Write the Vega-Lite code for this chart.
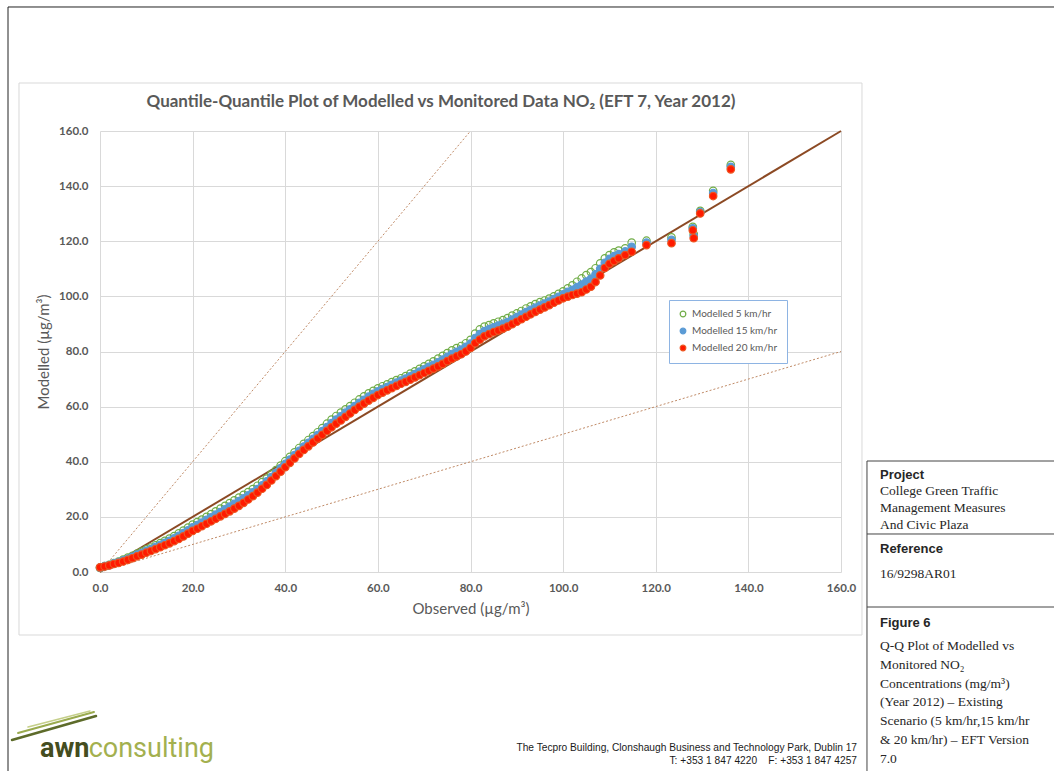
{
"$schema": "https://vega.github.io/schema/vega-lite/v6.json",
"width": 741, "height": 441,
"autosize": {"type": "none"},
"padding": {"left": 100, "top": 131, "right": 213, "bottom": 199},
"background": "white",
"config": {
  "view": {"stroke": null},
  "axis": {"grid": true, "gridColor": "#d9d9d9", "gridWidth": 1, "domain": false, "ticks": false, "labelFont": "Lato", "labelFontWeight": "bold", "labelFontSize": 11.5, "labelColor": "#595959", "titleFont": "Lato", "titleFontWeight": "normal", "titleFontSize": 15, "titleColor": "#595959", "labelFlush": false, "labelOverlap": false}
},
"data": {"values": [{}]},
"layer": [
  {"mark": {"type": "rect", "fillOpacity": 0, "stroke": "#222222", "strokeWidth": 1},
   "encoding": {"x": {"datum": -19.865, "type": "quantitative"}, "x2": {"datum": 207.5}, "y": {"datum": 204.99, "type": "quantitative"}, "y2": {"datum": -75}}},
  {"mark": {"type": "rect", "fillOpacity": 0, "stroke": "#d9d9d9", "strokeWidth": 1},
   "encoding": {"x": {"datum": -17.49, "type": "quantitative"}, "x2": {"datum": 164.53}, "y": {"datum": 177.41, "type": "quantitative"}, "y2": {"datum": -22.86}}},
  {"mark": {"type": "rule", "stroke": "#444444", "strokeWidth": 1},
   "encoding": {"x": {"datum": 165.61, "type": "quantitative"}, "y": {"datum": 40.27, "type": "quantitative"}, "y2": {"datum": -75}}},
  {"mark": {"type": "rule", "stroke": "#444444", "strokeWidth": 1},
   "encoding": {"x": {"datum": 165.61, "type": "quantitative"}, "x2": {"datum": 207.5}, "y": {"datum": 40.27, "type": "quantitative"}}},
  {"mark": {"type": "rule", "stroke": "#444444", "strokeWidth": 1},
   "encoding": {"x": {"datum": 165.61, "type": "quantitative"}, "x2": {"datum": 207.5}, "y": {"datum": 13.79, "type": "quantitative"}}},
  {"mark": {"type": "rule", "stroke": "#444444", "strokeWidth": 1},
   "encoding": {"x": {"datum": 165.61, "type": "quantitative"}, "x2": {"datum": 207.5}, "y": {"datum": -12.70, "type": "quantitative"}}},
  {"mark": {"type": "text", "text": "Quantile-Quantile Plot of Modelled vs Monitored Data NO₂ (EFT 7, Year 2012)", "font": "Lato", "fontWeight": "bold", "fontSize": 17, "color": "#595959", "align": "center", "baseline": "middle"},
   "encoding": {"x": {"datum": 73.63, "type": "quantitative"}, "y": {"datum": 170.52, "type": "quantitative"}}},
  {"data": {"values": [{"o": 0, "m": 0}, {"o": 160, "m": 80}]},
   "mark": {"type": "line", "stroke": "#c08a66", "strokeWidth": 1, "strokeDash": [2, 2]},
   "encoding": {"x": {"field": "o", "type": "quantitative", "title": "Observed (µg/m³)"}, "y": {"field": "m", "type": "quantitative", "title": "Modelled (µg/m³)"}}},
  {"data": {"values": [{"o": 0, "m": 0}, {"o": 80, "m": 160}]},
   "mark": {"type": "line", "stroke": "#c08a66", "strokeWidth": 1, "strokeDash": [2, 2]},
   "encoding": {"x": {"field": "o", "type": "quantitative", "title": "Observed (µg/m³)"}, "y": {"field": "m", "type": "quantitative", "title": "Modelled (µg/m³)"}}},
  {"data": {"values": [{"o": 0, "m": 0}, {"o": 160, "m": 160}]},
   "mark": {"type": "line", "stroke": "#8c4a24", "strokeWidth": 2},
   "encoding": {"x": {"field": "o", "type": "quantitative", "title": "Observed (µg/m³)"}, "y": {"field": "m", "type": "quantitative", "title": "Modelled (µg/m³)"}}},
  {"data": {"values": [
{"o":0,"m":1.5,"s":5},{"o":1,"m":2.1,"s":5},{"o":2,"m":2.6,"s":5},{"o":3,"m":3.2,"s":5},{"o":4,"m":3.8,"s":5},{"o":5,"m":4.5,"s":5},{"o":6,"m":5.2,"s":5},{"o":7,"m":5.9,"s":5},{"o":8,"m":6.7,"s":5},{"o":9,"m":7.4,"s":5},
{"o":10,"m":8.2,"s":5},{"o":11,"m":8.9,"s":5},{"o":12,"m":9.7,"s":5},{"o":13,"m":10.5,"s":5},{"o":14,"m":11.3,"s":5},{"o":15,"m":12.1,"s":5},{"o":16,"m":13.0,"s":5},{"o":17,"m":14.0,"s":5},{"o":18,"m":15.0,"s":5},{"o":19,"m":16.1,"s":5},
{"o":20,"m":17.2,"s":5},{"o":21,"m":18.1,"s":5},{"o":22,"m":19.0,"s":5},{"o":23,"m":20.0,"s":5},{"o":24,"m":21.0,"s":5},{"o":25,"m":22.0,"s":5},{"o":26,"m":23.0,"s":5},{"o":27,"m":24.0,"s":5},{"o":28,"m":25.0,"s":5},{"o":29,"m":26.0,"s":5},
{"o":30,"m":27.0,"s":5},{"o":31,"m":28.0,"s":5},{"o":32,"m":29.0,"s":5},{"o":33,"m":30.1,"s":5},{"o":34,"m":31.3,"s":5},{"o":35,"m":32.6,"s":5},{"o":36,"m":33.9,"s":5},{"o":37,"m":35.4,"s":5},{"o":38,"m":37.0,"s":5},{"o":39,"m":38.6,"s":5},
{"o":40,"m":40.2,"s":5},{"o":41,"m":41.8,"s":5},{"o":42,"m":43.4,"s":5},{"o":43,"m":45.0,"s":5},{"o":44,"m":46.5,"s":5},{"o":45,"m":47.9,"s":5},{"o":46,"m":49.3,"s":5},{"o":47,"m":50.7,"s":5},{"o":48,"m":52.2,"s":5},{"o":49,"m":53.8,"s":5},
{"o":50,"m":55.3,"s":5},{"o":51,"m":56.6,"s":5},{"o":52,"m":57.8,"s":5},{"o":53,"m":59.0,"s":5},{"o":54,"m":60.2,"s":5},{"o":55,"m":61.4,"s":5},{"o":56,"m":62.6,"s":5},{"o":57,"m":63.7,"s":5},{"o":58,"m":64.8,"s":5},{"o":59,"m":65.7,"s":5},
{"o":60,"m":66.6,"s":5},{"o":61,"m":67.4,"s":5},{"o":62,"m":68.1,"s":5},{"o":63,"m":68.9,"s":5},{"o":64,"m":69.6,"s":5},{"o":65,"m":70.3,"s":5},{"o":66,"m":71.1,"s":5},{"o":67,"m":72.0,"s":5},{"o":68,"m":72.8,"s":5},{"o":69,"m":73.7,"s":5},
{"o":70,"m":74.6,"s":5},{"o":71,"m":75.5,"s":5},{"o":72,"m":76.4,"s":5},{"o":73,"m":77.4,"s":5},{"o":74,"m":78.4,"s":5},{"o":75,"m":79.4,"s":5},{"o":76,"m":80.4,"s":5},{"o":77,"m":81.2,"s":5},{"o":78,"m":82.0,"s":5},{"o":79,"m":83.0,"s":5},
{"o":80,"m":84.2,"s":5},{"o":81,"m":86.5,"s":5},{"o":82,"m":88.0,"s":5},{"o":83,"m":89.0,"s":5},{"o":84,"m":89.6,"s":5},{"o":85,"m":90.2,"s":5},{"o":86,"m":90.8,"s":5},{"o":87,"m":91.4,"s":5},{"o":88,"m":92.1,"s":5},{"o":89,"m":93.0,"s":5},
{"o":90,"m":93.8,"s":5},{"o":91,"m":94.7,"s":5},{"o":92,"m":95.6,"s":5},{"o":93,"m":96.4,"s":5},{"o":94,"m":97.2,"s":5},{"o":95,"m":97.9,"s":5},{"o":96,"m":98.5,"s":5},{"o":97,"m":99.2,"s":5},{"o":98,"m":100.0,"s":5},{"o":99,"m":100.9,"s":5},
{"o":100,"m":101.8,"s":5},{"o":101,"m":102.9,"s":5},{"o":102,"m":104.0,"s":5},{"o":103,"m":105.3,"s":5},{"o":104,"m":106.5,"s":5},{"o":105,"m":107.7,"s":5},{"o":106,"m":108.8,"s":5},{"o":107,"m":110.2,"s":5},{"o":108,"m":112.0,"s":5},{"o":109,"m":113.8,"s":5},
{"o":110,"m":115.0,"s":5},{"o":111,"m":116.0,"s":5},{"o":112,"m":116.6,"s":5},{"o":113.4,"m":117.4,"s":5},{"o":114.8,"m":119.5,"s":5},{"o":118,"m":120.2,"s":5},{"o":123.4,"m":121.4,"s":5},{"o":128,"m":125.2,"s":5},{"o":128.2,"m":122.6,"s":5},{"o":129.6,"m":131.0,"s":5},{"o":132.4,"m":138.3,"s":5},{"o":136.2,"m":147.7,"s":5},
{"o":0,"m":1.6,"s":15},{"o":1,"m":2.1,"s":15},{"o":2,"m":2.5,"s":15},{"o":3,"m":3.1,"s":15},{"o":4,"m":3.6,"s":15},{"o":5,"m":4.2,"s":15},{"o":6,"m":4.8,"s":15},{"o":7,"m":5.5,"s":15},{"o":8,"m":6.3,"s":15},{"o":9,"m":6.9,"s":15},
{"o":10,"m":7.7,"s":15},{"o":11,"m":8.3,"s":15},{"o":12,"m":9.1,"s":15},{"o":13,"m":9.8,"s":15},{"o":14,"m":10.6,"s":15},{"o":15,"m":11.3,"s":15},{"o":16,"m":12.2,"s":15},{"o":17,"m":13.1,"s":15},{"o":18,"m":14.1,"s":15},{"o":19,"m":15.1,"s":15},
{"o":20,"m":16.2,"s":15},{"o":21,"m":17.0,"s":15},{"o":22,"m":17.9,"s":15},{"o":23,"m":18.9,"s":15},{"o":24,"m":19.8,"s":15},{"o":25,"m":20.8,"s":15},{"o":26,"m":21.7,"s":15},{"o":27,"m":22.7,"s":15},{"o":28,"m":23.7,"s":15},{"o":29,"m":24.7,"s":15},
{"o":30,"m":25.7,"s":15},{"o":31,"m":26.7,"s":15},{"o":32,"m":27.8,"s":15},{"o":33,"m":28.9,"s":15},{"o":34,"m":30.1,"s":15},{"o":35,"m":31.4,"s":15},{"o":36,"m":32.9,"s":15},{"o":37,"m":34.4,"s":15},{"o":38,"m":36.0,"s":15},{"o":39,"m":37.6,"s":15},
{"o":40,"m":39.2,"s":15},{"o":41,"m":40.8,"s":15},{"o":42,"m":42.4,"s":15},{"o":43,"m":44.0,"s":15},{"o":44,"m":45.5,"s":15},{"o":45,"m":46.9,"s":15},{"o":46,"m":48.3,"s":15},{"o":47,"m":49.7,"s":15},{"o":48,"m":51.1,"s":15},{"o":49,"m":52.6,"s":15},
{"o":50,"m":54.0,"s":15},{"o":51,"m":55.3,"s":15},{"o":52,"m":56.5,"s":15},{"o":53,"m":57.8,"s":15},{"o":54,"m":59.0,"s":15},{"o":55,"m":60.2,"s":15},{"o":56,"m":61.4,"s":15},{"o":57,"m":62.5,"s":15},{"o":58,"m":63.6,"s":15},{"o":59,"m":64.6,"s":15},
{"o":60,"m":65.5,"s":15},{"o":61,"m":66.4,"s":15},{"o":62,"m":67.1,"s":15},{"o":63,"m":67.9,"s":15},{"o":64,"m":68.7,"s":15},{"o":65,"m":69.4,"s":15},{"o":66,"m":70.2,"s":15},{"o":67,"m":71.0,"s":15},{"o":68,"m":71.8,"s":15},{"o":69,"m":72.7,"s":15},
{"o":70,"m":73.5,"s":15},{"o":71,"m":74.4,"s":15},{"o":72,"m":75.2,"s":15},{"o":73,"m":76.1,"s":15},{"o":74,"m":77.1,"s":15},{"o":75,"m":78.1,"s":15},{"o":76,"m":79.1,"s":15},{"o":77,"m":79.9,"s":15},{"o":78,"m":80.7,"s":15},{"o":79,"m":81.7,"s":15},
{"o":80,"m":82.9,"s":15},{"o":81,"m":84.9,"s":15},{"o":82,"m":86.3,"s":15},{"o":83,"m":87.4,"s":15},{"o":84,"m":88.1,"s":15},{"o":85,"m":88.8,"s":15},{"o":86,"m":89.4,"s":15},{"o":87,"m":90.0,"s":15},{"o":88,"m":90.7,"s":15},{"o":89,"m":91.6,"s":15},
{"o":90,"m":92.5,"s":15},{"o":91,"m":93.4,"s":15},{"o":92,"m":94.3,"s":15},{"o":93,"m":95.1,"s":15},{"o":94,"m":95.9,"s":15},{"o":95,"m":96.7,"s":15},{"o":96,"m":97.4,"s":15},{"o":97,"m":98.1,"s":15},{"o":98,"m":99.0,"s":15},{"o":99,"m":99.8,"s":15},
{"o":100,"m":100.7,"s":15},{"o":101,"m":101.6,"s":15},{"o":102,"m":102.4,"s":15},{"o":103,"m":103.4,"s":15},{"o":104,"m":104.3,"s":15},{"o":105,"m":105.4,"s":15},{"o":106,"m":106.4,"s":15},{"o":107,"m":108.0,"s":15},{"o":108,"m":110.0,"s":15},{"o":109,"m":112.2,"s":15},
{"o":110,"m":113.6,"s":15},{"o":111,"m":114.6,"s":15},{"o":112,"m":115.3,"s":15},{"o":113.4,"m":116.3,"s":15},{"o":114.8,"m":118.0,"s":15},{"o":118,"m":119.5,"s":15},{"o":123.4,"m":120.5,"s":15},{"o":128,"m":124.7,"s":15},{"o":128.2,"m":121.9,"s":15},{"o":129.6,"m":130.6,"s":15},{"o":132.4,"m":137.5,"s":15},{"o":136.2,"m":147.0,"s":15},
{"o":0,"m":1.7,"s":20},{"o":1,"m":2.0,"s":20},{"o":2,"m":2.4,"s":20},{"o":3,"m":2.9,"s":20},{"o":4,"m":3.3,"s":20},{"o":5,"m":3.8,"s":20},{"o":6,"m":4.4,"s":20},{"o":7,"m":5.0,"s":20},{"o":8,"m":5.7,"s":20},{"o":9,"m":6.3,"s":20},
{"o":10,"m":7.0,"s":20},{"o":11,"m":7.6,"s":20},{"o":12,"m":8.3,"s":20},{"o":13,"m":9.0,"s":20},{"o":14,"m":9.7,"s":20},{"o":15,"m":10.4,"s":20},{"o":16,"m":11.2,"s":20},{"o":17,"m":12.0,"s":20},{"o":18,"m":12.9,"s":20},{"o":19,"m":13.9,"s":20},
{"o":20,"m":14.9,"s":20},{"o":21,"m":15.7,"s":20},{"o":22,"m":16.6,"s":20},{"o":23,"m":17.5,"s":20},{"o":24,"m":18.4,"s":20},{"o":25,"m":19.3,"s":20},{"o":26,"m":20.2,"s":20},{"o":27,"m":21.1,"s":20},{"o":28,"m":22.0,"s":20},{"o":29,"m":23.0,"s":20},
{"o":30,"m":24.0,"s":20},{"o":31,"m":25.1,"s":20},{"o":32,"m":26.3,"s":20},{"o":33,"m":27.5,"s":20},{"o":34,"m":28.8,"s":20},{"o":35,"m":30.2,"s":20},{"o":36,"m":31.6,"s":20},{"o":37,"m":33.2,"s":20},{"o":38,"m":34.8,"s":20},{"o":39,"m":36.4,"s":20},
{"o":40,"m":38.0,"s":20},{"o":41,"m":39.6,"s":20},{"o":42,"m":41.2,"s":20},{"o":43,"m":42.8,"s":20},{"o":44,"m":44.3,"s":20},{"o":45,"m":45.6,"s":20},{"o":46,"m":47.0,"s":20},{"o":47,"m":48.4,"s":20},{"o":48,"m":49.8,"s":20},{"o":49,"m":51.2,"s":20},
{"o":50,"m":52.5,"s":20},{"o":51,"m":53.8,"s":20},{"o":52,"m":55.0,"s":20},{"o":53,"m":56.3,"s":20},{"o":54,"m":57.5,"s":20},{"o":55,"m":58.8,"s":20},{"o":56,"m":60.0,"s":20},{"o":57,"m":61.1,"s":20},{"o":58,"m":62.2,"s":20},{"o":59,"m":63.2,"s":20},
{"o":60,"m":64.2,"s":20},{"o":61,"m":65.1,"s":20},{"o":62,"m":65.9,"s":20},{"o":63,"m":66.7,"s":20},{"o":64,"m":67.5,"s":20},{"o":65,"m":68.3,"s":20},{"o":66,"m":69.0,"s":20},{"o":67,"m":69.8,"s":20},{"o":68,"m":70.6,"s":20},{"o":69,"m":71.4,"s":20},
{"o":70,"m":72.2,"s":20},{"o":71,"m":73.0,"s":20},{"o":72,"m":73.8,"s":20},{"o":73,"m":74.6,"s":20},{"o":74,"m":75.5,"s":20},{"o":75,"m":76.5,"s":20},{"o":76,"m":77.4,"s":20},{"o":77,"m":78.2,"s":20},{"o":78,"m":79.0,"s":20},{"o":79,"m":80.0,"s":20},
{"o":80,"m":81.3,"s":20},{"o":81,"m":83.0,"s":20},{"o":82,"m":84.3,"s":20},{"o":83,"m":85.5,"s":20},{"o":84,"m":86.3,"s":20},{"o":85,"m":87.0,"s":20},{"o":86,"m":87.6,"s":20},{"o":87,"m":88.3,"s":20},{"o":88,"m":89.0,"s":20},{"o":89,"m":89.9,"s":20},
{"o":90,"m":90.8,"s":20},{"o":91,"m":91.7,"s":20},{"o":92,"m":92.6,"s":20},{"o":93,"m":93.5,"s":20},{"o":94,"m":94.4,"s":20},{"o":95,"m":95.2,"s":20},{"o":96,"m":96.0,"s":20},{"o":97,"m":96.8,"s":20},{"o":98,"m":97.7,"s":20},{"o":99,"m":98.5,"s":20},
{"o":100,"m":99.3,"s":20},{"o":101,"m":99.9,"s":20},{"o":102,"m":100.5,"s":20},{"o":103,"m":101.0,"s":20},{"o":104,"m":101.5,"s":20},{"o":105,"m":102.5,"s":20},{"o":106,"m":103.5,"s":20},{"o":107,"m":105.2,"s":20},{"o":108,"m":107.6,"s":20},{"o":109,"m":110.3,"s":20},
{"o":110,"m":111.8,"s":20},{"o":111,"m":112.8,"s":20},{"o":112,"m":113.8,"s":20},{"o":113.4,"m":115.0,"s":20},{"o":114.8,"m":116.2,"s":20},{"o":118,"m":118.6,"s":20},{"o":123.4,"m":119.3,"s":20},{"o":128,"m":124.0,"s":20},{"o":128.2,"m":121.1,"s":20},{"o":129.6,"m":130.1,"s":20},{"o":132.4,"m":136.4,"s":20},{"o":136.2,"m":146.1,"s":20}
   ]},
   "mark": {"type": "point", "shape": "circle", "filled": true, "size": 56, "strokeWidth": 1.2, "opacity": 1},
   "encoding": {
     "x": {"field": "o", "type": "quantitative", "title": "Observed (µg/m³)", "scale": {"domain": [0, 160], "nice": false, "zero": false}, "axis": {"values": [0, 20, 40, 60, 80, 100, 120, 140, 160], "format": ".1f", "labelPadding": 10, "titlePadding": 8}},
     "y": {"field": "m", "type": "quantitative", "title": "Modelled (µg/m³)", "scale": {"domain": [0, 160], "nice": false, "zero": false}, "axis": {"values": [0, 20, 40, 60, 80, 100, 120, 140, 160], "format": ".1f", "labelPadding": 12, "titlePadding": 7}},
     "fill": {"field": "s", "type": "nominal", "scale": {"domain": [5, 15, 20], "range": ["transparent", "#5b9bd5", "#ff1a00"]},
       "legend": {"title": null, "orient": "none", "legendX": 569, "legendY": 169, "direction": "vertical", "strokeColor": "#8eb4e3", "fillColor": "#ffffff", "padding": 9, "rowPadding": 5, "labelFont": "Lato", "labelFontSize": 10, "labelColor": "#595959", "symbolSize": 32, "symbolStrokeWidth": 1.2, "symbolType": "circle", "labelOffset": 4, "labelExpr": "'Modelled ' + datum.label + ' km/hr'"}},
     "stroke": {"field": "s", "type": "nominal", "scale": {"domain": [5, 15, 20], "range": ["#70ad47", "#5b9bd5", "#ee5520"]},
       "legend": {"title": null, "orient": "none", "legendX": 569, "legendY": 169, "direction": "vertical", "strokeColor": "#8eb4e3", "fillColor": "#ffffff", "padding": 9, "rowPadding": 5, "labelFont": "Lato", "labelFontSize": 10, "labelColor": "#595959", "symbolSize": 32, "symbolStrokeWidth": 1.2, "symbolType": "circle", "labelOffset": 4, "labelExpr": "'Modelled ' + datum.label + ' km/hr'"}},
     "order": {"field": "s", "type": "quantitative", "sort": "ascending"}
   }},
  {"mark": {"type": "text", "text": "Project", "font": "Liberation Sans", "fontWeight": "bold", "fontSize": 13, "color": "#262626", "align": "left", "baseline": "middle"},
   "encoding": {"x": {"datum": 168.42, "type": "quantitative"}, "y": {"datum": 35.19, "type": "quantitative"}}},
  {"mark": {"type": "text", "text": ["College Green Traffic", "Management Measures", "And Civic Plaza"], "font": "Liberation Serif", "fontSize": 13.5, "lineHeight": 17, "color": "#262626", "align": "left", "baseline": "top"},
   "encoding": {"x": {"datum": 168.42, "type": "quantitative"}, "y": {"datum": 31.93, "type": "quantitative"}}},
  {"mark": {"type": "text", "text": "Reference", "font": "Liberation Sans", "fontWeight": "bold", "fontSize": 13, "color": "#262626", "align": "left", "baseline": "middle"},
   "encoding": {"x": {"datum": 168.42, "type": "quantitative"}, "y": {"datum": 8.34, "type": "quantitative"}}},
  {"mark": {"type": "text", "text": "16/9298AR01", "font": "Liberation Serif", "fontSize": 13.5, "color": "#262626", "align": "left", "baseline": "middle"},
   "encoding": {"x": {"datum": 168.42, "type": "quantitative"}, "y": {"datum": -0.73, "type": "quantitative"}}},
  {"mark": {"type": "text", "text": "Figure 6", "font": "Liberation Sans", "fontWeight": "bold", "fontSize": 13, "color": "#262626", "align": "left", "baseline": "middle"},
   "encoding": {"x": {"datum": 168.42, "type": "quantitative"}, "y": {"datum": -18.50, "type": "quantitative"}}},
  {"mark": {"type": "text", "text": ["Q-Q Plot of Modelled vs", "Monitored NO₂", "Concentrations (mg/m³)", "(Year 2012) – Existing", "Scenario (5 km/hr,15 km/hr", "& 20 km/hr) – EFT Version", "7.0"], "font": "Liberation Serif", "fontSize": 13.5, "lineHeight": 18.8, "color": "#262626", "align": "left", "baseline": "top"},
   "encoding": {"x": {"datum": 168.42, "type": "quantitative"}, "y": {"datum": -24.31, "type": "quantitative"}}},
  {"mark": {"type": "rule", "stroke": "#5d6b2a", "strokeWidth": 2.5, "strokeCap": "round"},
   "encoding": {"x": {"datum": -19.0, "type": "quantitative"}, "x2": {"datum": -0.86}, "y": {"datum": -60.95, "type": "quantitative"}, "y2": {"datum": -52.24}}},
  {"mark": {"type": "rule", "stroke": "#9aab4e", "strokeWidth": 2, "strokeCap": "round"},
   "encoding": {"x": {"datum": -17.7, "type": "quantitative"}, "x2": {"datum": -1.30}, "y": {"datum": -58.41, "type": "quantitative"}, "y2": {"datum": -50.79}}},
  {"mark": {"type": "rule", "stroke": "#c5cf8a", "strokeWidth": 1.5, "strokeCap": "round"},
   "encoding": {"x": {"datum": -15.55, "type": "quantitative"}, "x2": {"datum": -2.16}, "y": {"datum": -56.24, "type": "quantitative"}, "y2": {"datum": -50.43}}},
  {"mark": {"type": "text", "text": "awn", "font": "Roboto", "fontWeight": "bold", "fontSize": 27, "color": "#444d20", "align": "left", "baseline": "alphabetic"},
   "encoding": {"x": {"datum": -12.96, "type": "quantitative"}, "y": {"datum": -67.12, "type": "quantitative"}}},
  {"mark": {"type": "text", "text": "consulting", "font": "Roboto", "fontWeight": "normal", "fontSize": 27, "color": "#a3b04f", "align": "left", "baseline": "alphabetic"},
   "encoding": {"x": {"datum": -2.45, "type": "quantitative"}, "y": {"datum": -67.12, "type": "quantitative"}}},
  {"mark": {"type": "text", "text": "The Tecpro Building, Clonshaugh Business and Technology Park, Dublin 17", "font": "Liberation Sans", "fontSize": 10.2, "color": "#1a1a1a", "align": "right", "baseline": "middle"},
   "encoding": {"x": {"datum": 163.46, "type": "quantitative"}, "y": {"datum": -63.86, "type": "quantitative"}}},
  {"mark": {"type": "text", "text": "T: +353 1 847 4220\u00a0\u00a0\u00a0 F: +353 1 847 4257", "font": "Liberation Sans", "fontSize": 10.2, "color": "#1a1a1a", "align": "right", "baseline": "middle"},
   "encoding": {"x": {"datum": 163.46, "type": "quantitative"}, "y": {"datum": -68.57, "type": "quantitative"}}}
]
}
